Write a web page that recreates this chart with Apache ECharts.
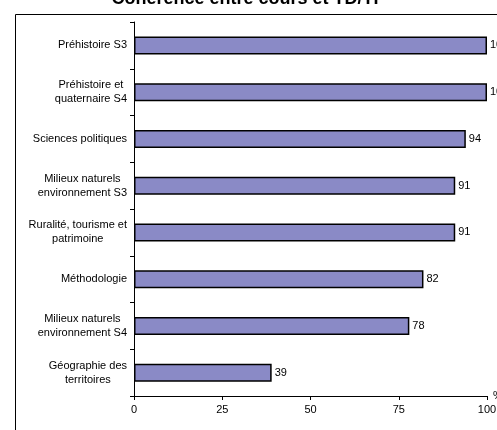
<!DOCTYPE html>
<html><head><meta charset="utf-8">
<script src="https://cdn.jsdelivr.net/npm/echarts@6/dist/echarts.min.js"></script>
<style>html,body{margin:0;padding:0;background:#fff}#c{width:497px;height:430px}</style>
</head><body><div id="c"></div>
<script>
const titleText = 'Cohérence entre cours et TD/TP';
const categories = [
  'Préhistoire S3',
  'Préhistoire et\nquaternaire S4',
  'Sciences politiques',
  'Milieux naturels\nenvironnement S3',
  'Ruralité, tourisme et\npatrimoine',
  'Méthodologie',
  'Milieux naturels\nenvironnement S4',
  'Géographie des\nterritoires'
];
const values = [100, 100, 94, 91, 91, 82, 78, 39];
const xTicks = [0, 25, 50, 75, 100];

const chart = echarts.init(document.getElementById('c'), null, {renderer: 'canvas'});
chart.setOption({
  animation: false,
  backgroundColor: '#fff',
  textStyle: {fontFamily: 'Liberation Sans, Arial, sans-serif'},
  title: {
    text: titleText, left: 'center', top: -15,
    textStyle: {fontSize: 18, fontWeight: 'bold', color: '#000', fontFamily: 'Liberation Sans, Arial, sans-serif'}
  },
  graphic: [{
    type: 'rect', left: 13, top: 12, silent: true, z: -1,
    shape: {width: 520, height: 460},
    style: {fill: 'none', stroke: '#000', lineWidth: 1}
  }],
  grid: {left: 134, right: 10, top: 22, bottom: 34, containLabel: false, outerBoundsMode: 'none'},
  xAxis: {
    type: 'value', min: xTicks[0], max: xTicks[xTicks.length - 1], interval: 25,
    name: '%', nameLocation: 'end', nameGap: 6,
    nameTextStyle: {fontSize: 11, color: '#000', verticalAlign: 'top', padding: [-6, 0, 0, 0]},
    axisLine: {show: true, lineStyle: {color: '#000', width: 1}},
    axisTick: {show: true, length: 4, lineStyle: {color: '#000'}},
    axisLabel: {fontSize: 11, color: '#000', margin: 8},
    splitLine: {show: false}
  },
  yAxis: {
    type: 'category', data: categories, inverse: true,
    axisLine: {show: true, lineStyle: {color: '#000', width: 1}},
    axisTick: {show: true, length: 4, alignWithLabel: false, lineStyle: {color: '#000'}},
    axisLabel: {
      fontSize: 11, color: '#000', margin: 7, align: 'right', lineHeight: 14,
      formatter: v => v.split('\n').map(l => '{c|' + l + '}').join('\n'),
      rich: {c: {align: 'center', fontSize: 11, color: '#000', lineHeight: 14}}
    }
  },
  series: [{
    type: 'bar', data: values, barWidth: 18,
    itemStyle: {color: '#8A8AC6', borderColor: '#000', borderWidth: 1.5},
    label: {show: true, position: 'right', distance: 3, fontSize: 11, color: '#000'}
  }]
});
</script></body></html>
